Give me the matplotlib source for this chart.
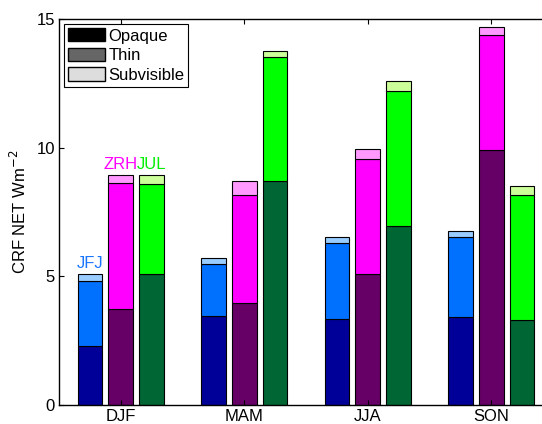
import numpy as np
import matplotlib.pyplot as plt
from matplotlib.patches import Patch

plt.rcParams['font.family'] = ['Liberation Sans', 'DejaVu Sans']
plt.rcParams['font.size'] = 12

seasons = ['DJF', 'MAM', 'JJA', 'SON']
stations = ['JFJ', 'ZRH', 'JUL']

# CRF NET components (W m-2) per season
opaque = {'JFJ': [2.31, 3.46, 3.33, 3.41],
          'ZRH': [3.74, 3.97, 5.11, 9.90],
          'JUL': [5.09, 8.69, 6.95, 3.31]}
thin = {'JFJ': [2.50, 2.03, 2.95, 3.11],
        'ZRH': [4.88, 4.21, 4.45, 4.48],
        'JUL': [3.49, 4.83, 5.27, 4.87]}
subvisible = {'JFJ': [0.28, 0.24, 0.24, 0.25],
              'ZRH': [0.33, 0.52, 0.40, 0.32],
              'JUL': [0.37, 0.22, 0.38, 0.32]}

colors = {'JFJ': ['#000099', '#0070ff', '#99ccff'],
          'ZRH': ['#660066', '#ff00ff', '#ff99ff'],
          'JUL': ['#006633', '#00ff00', '#ccff99']}
text_colors = {'JFJ': '#1a75ff', 'ZRH': '#ff00ff', 'JUL': '#00ee00'}
offsets = {'JFJ': -0.25, 'ZRH': 0.0, 'JUL': 0.25}

fig = plt.figure(figsize=(5.42, 4.24), dpi=100)
ax = fig.add_axes([59/542, 19/424, 494/542, 386/424])

x = np.arange(1, len(seasons) + 1)
w = 0.2
for st in stations:
    o = np.array(opaque[st])
    t = np.array(thin[st])
    s = np.array(subvisible[st])
    c = colors[st]
    xs = x + offsets[st]
    ax.bar(xs, o, w, color=c[0], edgecolor='k', linewidth=0.8)
    ax.bar(xs, t, w, bottom=o, color=c[1], edgecolor='k', linewidth=0.8)
    ax.bar(xs, s, w, bottom=o + t, color=c[2], edgecolor='k', linewidth=0.8)
    ax.text(xs[0], o[0] + t[0] + s[0] + 0.1, st, color=text_colors[st],
            ha='center', va='bottom', fontsize=12)

ax.set_xlim([0.5, 4.5])
ax.set_ylim([0, 15])
ax.set_xticks(x)
ax.set_xticklabels(seasons)
ax.set_yticks([0, 5, 10, 15])
ax.set_ylabel('CRF NET Wm$^{-2}$', labelpad=5)
ax.tick_params(direction='in', top=True, right=False, length=3.5, width=0.8,
               pad=3)
for sp in ax.spines.values():
    sp.set_linewidth(1.0)

handles = [Patch(facecolor='k', edgecolor='k', label='Opaque'),
           Patch(facecolor='#666666', edgecolor='k', label='Thin'),
           Patch(facecolor='#dddddd', edgecolor='k', label='Subvisible')]
leg = ax.legend(handles=handles, loc='upper left', fancybox=False,
                framealpha=1, edgecolor='k', handlelength=2.2,
                handleheight=0.85, labelspacing=0.25, handletextpad=0.2,
                borderpad=0.25, borderaxespad=0.3)
leg.get_frame().set_linewidth(0.8)

fig.savefig('out.png', dpi=100)
